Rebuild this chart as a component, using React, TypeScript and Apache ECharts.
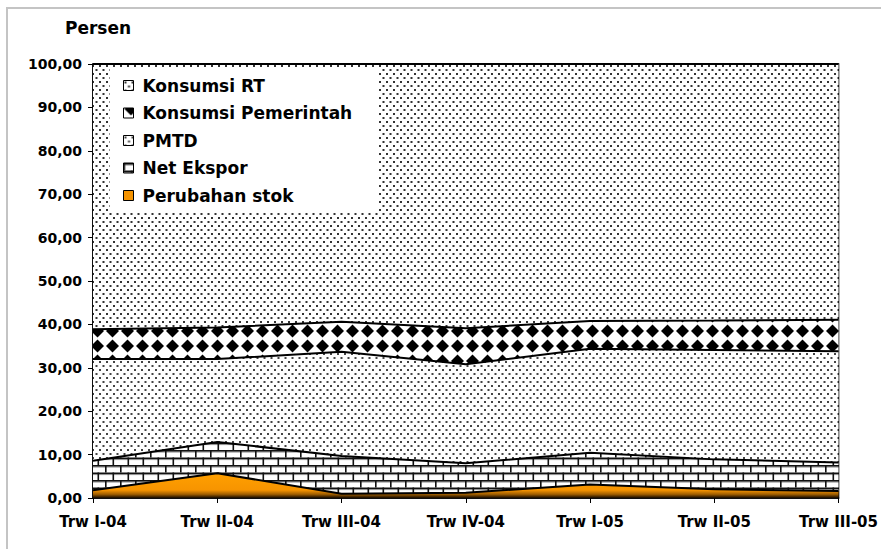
import React, { useEffect, useRef } from 'react';
import * as echarts from 'echarts';

const categories = ['Trw I-04', 'Trw II-04', 'Trw III-04', 'Trw IV-04', 'Trw I-05', 'Trw II-05', 'Trw III-05'];
const perubahanStok = [1.8, 5.7, 1.0, 1.2, 3.1, 2.0, 1.6];
const netEkspor = [6.8, 7.2, 8.7, 6.8, 7.3, 6.9, 6.6];
const pmtd = [23.4, 19.1, 24.0, 22.8, 24.0, 25.2, 25.6];
const konsumsiPemerintah = [6.9, 7.3, 6.9, 8.3, 6.4, 6.8, 7.3];
const konsumsiRT = [61.1, 60.7, 59.4, 60.9, 59.2, 59.1, 58.9];
const seriesNames = ['Konsumsi RT', 'Konsumsi Pemerintah', 'PMTD', 'Net Ekspor', 'Perubahan stok'];
const yAxisTitle = 'Persen';

const FONT = 'DejaVu Sans';

function makeCanvas(w: number, h: number, draw: (ctx: CanvasRenderingContext2D) => void) {
  const c = document.createElement('canvas');
  c.width = w;
  c.height = h;
  const ctx = c.getContext('2d') as CanvasRenderingContext2D;
  draw(ctx);
  return c;
}

function pattern(c: HTMLCanvasElement) {
  return { image: c, repeat: 'repeat', imageWidth: c.width, imageHeight: c.height } as any;
}

function dots(color: string, size: number) {
  return makeCanvas(7, 8, (ctx) => {
    ctx.fillStyle = '#fff';
    ctx.fillRect(0, 0, 7, 8);
    ctx.fillStyle = color;
    ctx.fillRect(1, 1, size, size);
    ctx.fillRect(4.5, 5, size, size);
  });
}

function bricks() {
  return makeCanvas(15, 15, (ctx) => {
    ctx.fillStyle = '#fff';
    ctx.fillRect(0, 0, 15, 15);
    ctx.fillStyle = '#9a9a9a';
    ctx.fillRect(0, 1.6, 15, 1);
    ctx.fillRect(0, 9.1, 15, 1);
    ctx.fillStyle = '#111';
    ctx.fillRect(0, 0, 15, 1.6);
    ctx.fillRect(0, 7.5, 15, 1.6);
    ctx.fillRect(0, 0, 1.6, 7.5);
    ctx.fillRect(7.5, 7.5, 1.6, 7.5);
  });
}

function diamonds() {
  return makeCanvas(15, 15, (ctx) => {
    ctx.fillStyle = '#fff';
    ctx.fillRect(0, 0, 15, 15);
    ctx.fillStyle = '#000';
    const d = (cx: number, cy: number) => {
      const r = 6.5;
      ctx.beginPath();
      ctx.moveTo(cx, cy - r);
      ctx.lineTo(cx + r, cy);
      ctx.lineTo(cx, cy + r);
      ctx.lineTo(cx - r, cy);
      ctx.closePath();
      ctx.fill();
    };
    d(7.5, 1);
    d(7.5, 16);
  });
}

export default function App() {
  const ref = useRef<HTMLDivElement>(null);
  useEffect(() => {
    if (!ref.current) return;
    const chart = echarts.init(ref.current, undefined, { renderer: 'svg' });
    const rtPat = pattern(dots('#333', 2));
    const pmtdPat = pattern(dots('#444', 2));
    const kpPat = pattern(diamonds());
    const nePat = pattern(bricks());
    const stokGrad = new echarts.graphic.LinearGradient(0, 0, 0, 1, [
      { offset: 0, color: '#FFA000' },
      { offset: 0.68, color: '#F79400' },
      { offset: 0.85, color: '#A05E00' },
      { offset: 1, color: '#140a00' },
    ]);
    const bold = { fontFamily: FONT, fontWeight: 'bold' as const, color: '#000' };
    const mk = (name: string, data: number[], fill: any, z: number) => ({
      name,
      type: 'line' as const,
      stack: 'total',
      data,
      symbol: 'none',
      z,
      lineStyle: { color: '#000', width: 2 },
      itemStyle: { color: '#000' },
      areaStyle: { color: fill, opacity: 1 },
      emphasis: { disabled: true },
    });
    chart.setOption({
      animation: false,
      backgroundColor: '#fff',
      title: {
        text: yAxisTitle,
        left: 60,
        top: 14,
        textStyle: { ...bold, fontSize: 17 },
      },
      graphic: [
        {
          type: 'rect',
          shape: { x: 7, y: 8, width: 890, height: 560 },
          style: { fill: 'none', stroke: '#c4c4c4', lineWidth: 2 },
          silent: true,
          z: -1,
        },
      ],
      legend: {
        orient: 'vertical',
        left: 110,
        top: 68,
        z: 30,
        padding: [9, 26, 9, 13],
        itemWidth: 10,
        itemHeight: 10,
        itemGap: 10.5,
        icon: 'rect',
        backgroundColor: '#fff',
        textStyle: { ...bold, fontSize: 17, padding: [0, 0, 0, 4] },
        data: [
          { name: seriesNames[0], itemStyle: { color: rtPat, borderColor: '#000', borderWidth: 1 } },
          { name: seriesNames[1], itemStyle: { color: kpPat, borderColor: '#000', borderWidth: 1 } },
          { name: seriesNames[2], itemStyle: { color: pmtdPat, borderColor: '#000', borderWidth: 1 } },
          { name: seriesNames[3], itemStyle: { color: nePat, borderColor: '#000', borderWidth: 1 } },
          { name: seriesNames[4], itemStyle: { color: '#F59300', borderColor: '#000', borderWidth: 1 } },
        ],
      },
      grid: {
        left: 93,
        right: 39,
        top: 64,
        bottom: 51,
        show: true,
        borderColor: '#000',
        borderWidth: 1.5,
        backgroundColor: 'transparent',
      },
      xAxis: {
        type: 'category',
        data: categories,
        boundaryGap: false,
        axisLine: { show: true, lineStyle: { color: '#000', width: 1.5 } },
        axisTick: { show: true, length: 5, lineStyle: { color: '#000' } },
        axisLabel: { ...bold, fontSize: 15, margin: 16, interval: 0 },
        splitLine: { show: false },
      },
      yAxis: {
        type: 'value',
        min: 0,
        max: 100,
        interval: 10,
        axisLine: { show: true, lineStyle: { color: '#000', width: 1.5 } },
        axisTick: { show: true, length: 5, lineStyle: { color: '#000' } },
        axisLabel: {
          ...bold,
          fontSize: 14,
          margin: 11,
          formatter: (v: number) => v.toFixed(2).replace('.', ','),
        },
        splitLine: { show: false },
      },
      series: [
        mk(seriesNames[4], perubahanStok, stokGrad, 10),
        mk(seriesNames[3], netEkspor, nePat, 9),
        mk(seriesNames[2], pmtd, pmtdPat, 8),
        mk(seriesNames[1], konsumsiPemerintah, kpPat, 7),
        mk(seriesNames[0], konsumsiRT, rtPat, 6),
      ],
    });
    return () => chart.dispose();
  }, []);
  return (
    <div
      ref={ref}
      style={{ position: 'fixed', left: 0, top: 0, width: 881, height: 549 }}
    />
  );
}
